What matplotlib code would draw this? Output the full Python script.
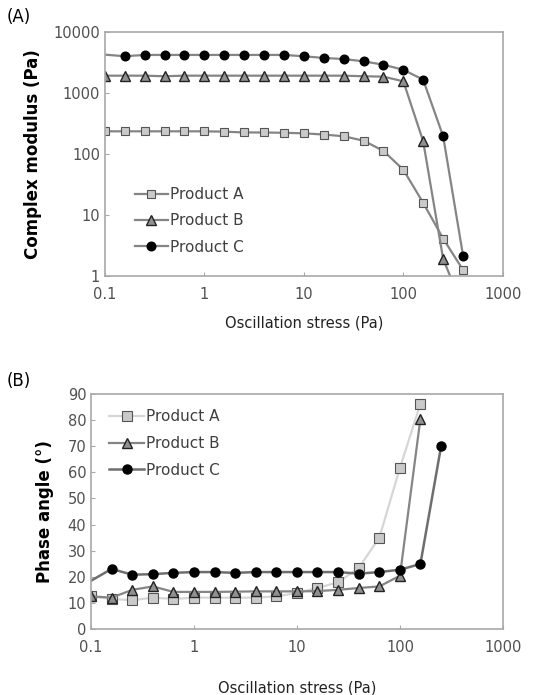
import matplotlib

matplotlib.use("Agg")
import matplotlib.pyplot as plt  # noqa: E402

plt.rcParams["font.family"] = ["DejaVu Sans"]

# oscillation stress steps (Pa)
stress = [0.1, 0.158, 0.251, 0.398, 0.631, 1, 1.58, 2.51, 3.98, 6.31,
          10, 15.8, 25.1, 39.8, 63.1, 100, 158, 251, 398]

# (A) complex modulus (Pa)
mod_a = [235, 235, 235, 235, 235, 235, 232, 225, 225, 222,
         218, 208, 195, 165, 112, 55, 15.8, 4.1, 1.25]
mod_b = [1920, 1920, 1920, 1880, 1920, 1920, 1920, 1920, 1920, 1920,
         1920, 1920, 1920, 1880, 1850, 1550, 162, 1.9, 0.3]
mod_c = [4250, 4000, 4200, 4200, 4200, 4200, 4200, 4200, 4200, 4200,
         4000, 3750, 3600, 3300, 2900, 2400, 1650, 195, 2.15]

# (B) phase angle (deg)
stress_b = stress[:17]
ph_a = [12.5, 11.5, 11, 12, 11.5, 12, 12, 12, 12, 12.5,
        13.8, 15.7, 17.9, 23.4, 35, 61.7, 86.3]
ph_b = [12.5, 12, 15, 16.3, 14.2, 14.2, 14.2, 14.3, 14.4, 14.4,
        14.4, 14.5, 15, 15.7, 16.3, 20.4, 80.5]
stress_c = stress[:18]
ph_c = [18.5, 23, 20.8, 21, 21.5, 21.8, 21.8, 21.5, 21.8, 21.8,
        21.8, 21.8, 21.8, 21.2, 21.8, 22.7, 24.9, 70]

xticks = [0.1, 1, 10, 100, 1000]
xticklabels = ["0.1", "1", "10", "100", "1000"]
yticks_a = [1, 10, 100, 1000, 10000]
yticklabels_a = ["1", "10", "100", "1000", "10000"]
yticks_b = list(range(0, 91, 10))

SPINE = "#a8a8a8"
TICKTXT = "#505050"

fig = plt.figure(figsize=(5.49, 6.95), dpi=100)


def style(ax):
    for s in ax.spines.values():
        s.set_color(SPINE)
        s.set_linewidth(1.2)
    ax.tick_params(which="both", direction="in", length=3, color=SPINE,
                   labelsize=10.5, labelcolor=TICKTXT)
    ax.tick_params(which="minor", length=0)
    ax.set_xscale("log")
    ax.set_xlim(0.1, 1000)
    ax.set_xticks(xticks)
    ax.set_xticklabels(xticklabels)
    ax.tick_params(axis="x", pad=8)


# ---- (A)
ax1 = fig.add_axes([0.191, 0.603, 0.725, 0.351])
style(ax1)
ax1.set_yscale("log")
ax1.set_ylim(1, 10000)
ax1.set_yticks(yticks_a)
ax1.set_yticklabels(yticklabels_a)
ax1.plot(stress, mod_a, color="#858585", lw=1.6, marker="s", ms=6,
         mfc="#cacaca", mec="#555555", mew=0.8, label="Product A")
ax1.plot(stress, mod_b, color="#858585", lw=1.6, marker="^", ms=6.5,
         mfc="#909090", mec="#222222", mew=1.0, label="Product B")
ax1.plot(stress, mod_c, color="#858585", lw=1.6, marker="o", ms=6.2,
         mfc="black", mec="black", markevery=range(1, len(stress)),
         label="Product C")
ax1.set_xlabel("Oscillation stress (Pa)", fontsize=10.5, color="#222222",
               labelpad=10)
ax1.set_ylabel("Complex modulus (Pa)", fontsize=12, fontweight="bold",
               labelpad=8)
ax1.legend(loc="lower left", bbox_to_anchor=(0.04, 0.03), frameon=False,
           fontsize=11, handlelength=2.2, handletextpad=0.15,
           labelspacing=0.75, labelcolor="#404040")
fig.text(0.012, 0.975, "(A)", fontsize=12, va="center")

# ---- (B)
ax2 = fig.add_axes([0.166, 0.095, 0.750, 0.338])
style(ax2)
ax2.set_ylim(0, 90)
ax2.set_yticks(yticks_b)
ax2.plot(stress_b, ph_a, color="#d6d6d6", lw=1.6, marker="s", ms=6.5,
         mfc="#cacaca", mec="#555555", mew=0.8, label="Product A")
ax2.plot(stress_b, ph_b, color="#858585", lw=1.6, marker="^", ms=7,
         mfc="#909090", mec="#222222", mew=1.0, label="Product B")
ax2.plot(stress_c, ph_c, color="#6e6e6e", lw=1.8, marker="o", ms=6.5,
         mfc="black", mec="black", markevery=range(1, len(stress_c)),
         label="Product C")
ax2.set_xlabel("Oscillation stress (Pa)", fontsize=10.5, color="#222222",
               labelpad=18)
ax2.set_ylabel("Phase angle (\u00b0)", fontsize=12, fontweight="bold",
               labelpad=10)
ax2.legend(loc="upper left", bbox_to_anchor=(0.01, 0.995), frameon=False,
           fontsize=11, handlelength=2.3, handletextpad=0.1,
           labelspacing=0.78, labelcolor="#404040")
fig.text(0.012, 0.452, "(B)", fontsize=12, va="center")

fig.savefig("out.png", dpi=100)
